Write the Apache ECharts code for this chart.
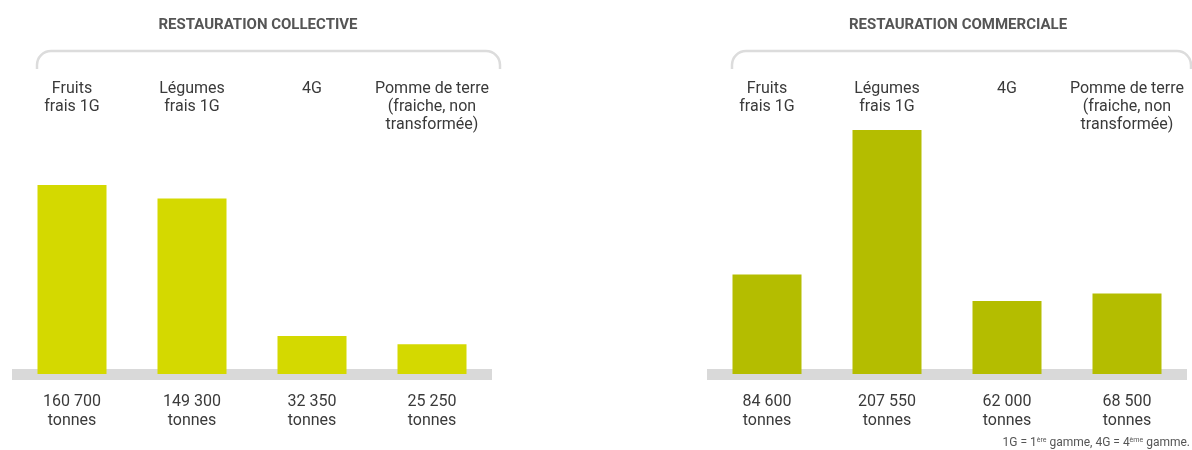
<!DOCTYPE html>
<html>
<head>
<meta charset="utf-8">
<script src="https://cdn.jsdelivr.net/npm/echarts@6/dist/echarts.min.js"></script>
<style>
  html, body { margin: 0; padding: 0; background: #fff; }
  #chart { width: 1192px; height: 450px; }
</style>
</head>
<body>
<div id="chart"></div>
<script>
// produits (libellés du haut)
let categories = ['Fruits\nfrais 1G', 'Légumes\nfrais 1G', '4G', 'Pomme de terre\n(fraiche, non\ntransformée)'];
// tonnes
let collective = [160700, 149300, 32350, 25250];
let commerciale = [84600, 207550, 62000, 68500];
let titles = ['RESTAURATION COLLECTIVE', 'RESTAURATION COMMERCIALE'];

let font = 'Roboto, "Noto Sans", sans-serif';

function fmt(n) {
	return String(n).replace(/\B(?=(\d{3})+(?!\d))/g, ' ');
}

function bottomAxis(idx, values) {
	return {
		type: 'category',
		gridIndex: idx,
		position: 'bottom',
		data: categories,
		axisLine: { show: true, lineStyle: { color: '#d9d9d9', width: 11, cap: 'butt' } },
		axisTick: { show: false },
		axisLabel: {
			interval: 0,
			margin: 18,
			color: '#3a3a3a',
			fontFamily: font,
			fontSize: 16,
			lineHeight: 19,
			formatter: function (v, i) { return fmt(values[i]) + '\ntonnes'; }
		}
	};
}

function topAxis(idx) {
	return {
		type: 'category',
		gridIndex: idx,
		position: 'top',
		data: categories,
		axisLine: { show: false },
		axisTick: { show: false },
		axisLabel: {
			interval: 0,
			margin: 0,
			verticalAlign: 'top',
			color: '#3a3a3a',
			fontFamily: font,
			fontSize: 16,
			lineHeight: 18
		}
	};
}

// accolade arrondie au-dessus des libellés
function bracket(x1, x2) {
	let st = { stroke: '#dcdcdc', lineWidth: 2.5, fill: null };
	let r = 14, y = 51;
	return [
		{ type: 'line', shape: { x1: x1, y1: y + r, x2: x1, y2: 69 }, style: st },
		{ type: 'arc', shape: { cx: x1 + r, cy: y + r, r: r, startAngle: Math.PI, endAngle: Math.PI * 1.5 }, style: st },
		{ type: 'line', shape: { x1: x1 + r, y1: y, x2: x2 - r, y2: y }, style: st },
		{ type: 'arc', shape: { cx: x2 - r, cy: y + r, r: r, startAngle: Math.PI * 1.5, endAngle: Math.PI * 2 }, style: st },
		{ type: 'line', shape: { x1: x2, y1: y + r, x2: x2, y2: 69 }, style: st }
	];
}

let chart = echarts.init(document.getElementById('chart'));

let option = {
	animation: false,
	grid: [
		{ left: 12, width: 480, top: 80, height: 294 },
		{ left: 707, width: 480, top: 80, height: 294 }
	],
	xAxis: [bottomAxis(0, collective), topAxis(0), bottomAxis(1, commerciale), topAxis(1)],
	yAxis: [
		{ type: 'value', gridIndex: 0, min: 0, max: 250000, show: false },
		{ type: 'value', gridIndex: 1, min: 0, max: 250000, show: false }
	],
	series: [
		{
			type: 'bar',
			xAxisIndex: 0,
			yAxisIndex: 0,
			data: collective,
			barWidth: 69,
			itemStyle: { color: '#d4d900' }
		},
		{
			type: 'bar',
			xAxisIndex: 2,
			yAxisIndex: 1,
			data: commerciale,
			barWidth: 69,
			itemStyle: { color: '#b4bd00' }
		}
	],
	graphic: [
		{
			type: 'text', x: 258, y: 25,
			style: { text: titles[0], textAlign: 'center', textVerticalAlign: 'middle', fill: '#555', font: 'bold 15px ' + font }
		},
		{
			type: 'text', x: 958, y: 25,
			style: { text: titles[1], textAlign: 'center', textVerticalAlign: 'middle', fill: '#555', font: 'bold 15px ' + font }
		},
		{
			type: 'text', x: 1190, y: 443,
			style: {
				text: '{a|1G = 1}{s|ère}{a| gamme, 4G = 4}{s|ème}{a| gamme.}',
				textAlign: 'right',
				textVerticalAlign: 'middle',
				rich: {
					a: { fontSize: 12, fontFamily: font, fill: '#555' },
					s: { fontSize: 7, fontFamily: font, fill: '#555', verticalAlign: 'top', padding: [0, 0, 6, 0] }
				}
			}
		}
	].concat(bracket(37, 500), bracket(732, 1191))
};

chart.setOption(option);
</script>
</body>
</html>
